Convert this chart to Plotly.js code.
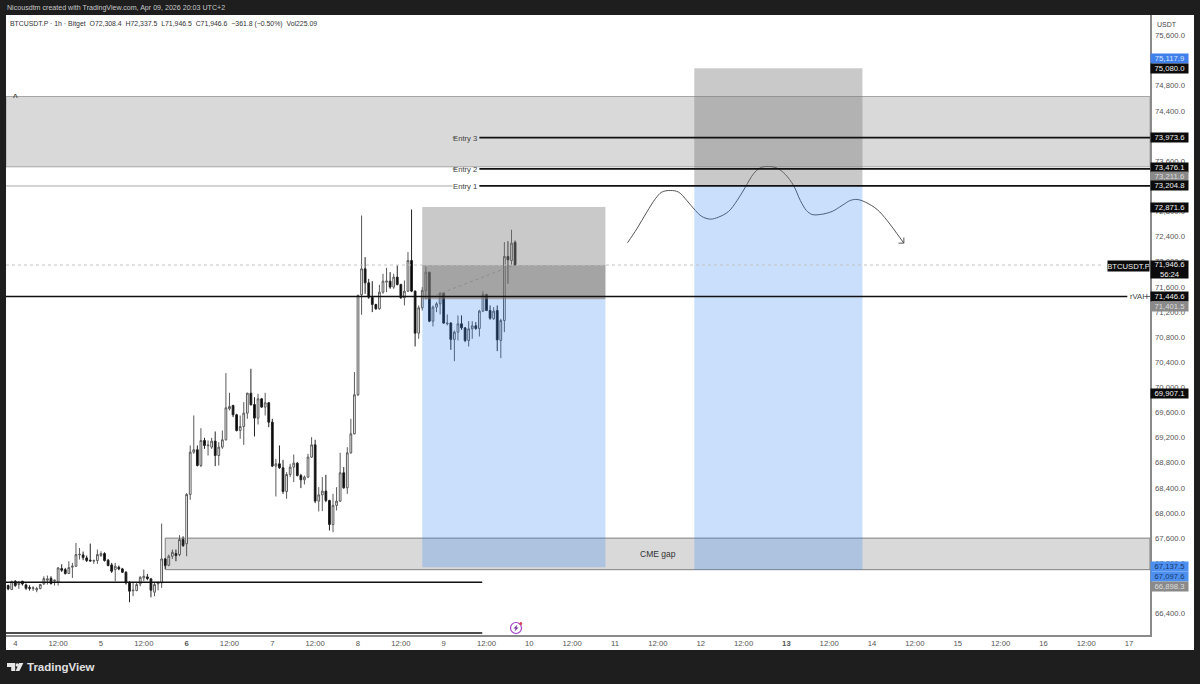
<!DOCTYPE html>
<html><head><meta charset="utf-8">
<script src="https://cdn.plot.ly/plotly-3.0.1.min.js"></script>
<style>html,body{margin:0;padding:0;background:#1e1e1e;overflow:hidden}#c{width:1200px;height:684px}</style>
</head><body><div id="c"></div>
<script>
// Bars: hour offset from Apr 4 00:00 for the first bar, then hourly
const firstHour = -2;
const opens = [66845,66781,66914,66861,66914,66855,66813,66797,66776,66797,66871,66930,66961,66919,66898,67115,67099,67036,67137,67152,67333,67333,67285,67248,67232,67243,67322,67354,67248,67174,67099,67137,67110,67057,66887,66760,66765,66871,66967,66983,66951,66739,66871,66887,67269,67168,67312,67354,67338,67577,
67510,68295,68968,69006,68756,69154,69070,69048,69144,68915,69048,69165,69658,69711,69563,69313,69377,69589,69907,69727,69510,69817,69685,69754,69446,68746,68783,68719,68342,68613,68730,68793,68597,68528,68571,68889,69085,68189,68289,68348,68199,67817,68120,68189,68640,68401,68958,69260,
69881,71472,71886,71663,71435,71319,71250,71515,71674,71690,71595,71754,71637,71425,71531,72019,71531,70862,71266,71541,71833,71053,71276,71329,71499,71011,71022,70762,70878,71011,70947,70746,70931,70979,70937,71213,71478,71223,71091,71223,70746,71064,72083,72019,72308];
const highs = [66861,66924,66930,66914,66919,66877,66850,66834,66824,66871,66993,67004,66993,66940,67137,67184,67126,67232,67206,67524,67444,67386,67322,67513,67259,67418,67391,67375,67269,67206,67206,67163,67126,67073,66914,66887,66887,66993,67099,67030,66967,66887,66914,67831,67285,67338,67418,67418,67646,67630,
68316,69075,69552,69075,69350,69196,69154,69196,69297,69128,69313,70226,69913,69722,69579,69552,69764,69913,70295,69844,69897,69828,69913,69764,69499,68862,69075,68846,68650,68783,68931,68809,68624,68597,68942,69207,69165,68411,68571,68608,68210,68305,68411,68958,68730,69048,69499,70242,
71478,72735,72072,71727,71690,71329,71632,71807,71902,71833,71807,71939,71648,71701,72152,72831,71541,71303,71595,71923,71833,71303,71356,71515,71515,71160,71038,70905,71144,71144,70958,71053,71053,71038,71234,71531,71488,71303,71276,71303,71091,72311,72327,72507,72337];
const lows = [66770,66776,66824,66792,66845,66776,66765,66760,66739,66786,66855,66861,66861,66845,66845,67062,67020,67030,66967,67142,67259,67248,67221,67227,67190,67190,67301,67227,67152,67046,66914,67089,67046,66861,66579,66675,66755,66834,66914,66930,66659,66675,66770,66808,67110,67152,67269,67232,67312,67460,
67312,68210,68942,68740,68730,69021,68915,69021,68746,68756,69021,69154,69632,69526,69297,69181,69085,69499,69711,69218,69409,69674,69552,69366,68730,68263,68703,68305,68226,68571,68491,68581,68396,68454,68555,68878,68157,68024,68030,68173,67722,67695,68040,68173,68385,68305,68942,69250,
69860,71154,71488,71409,71197,71234,71234,71488,71515,71568,71568,71621,71409,71303,71515,71515,70650,70772,71223,71409,71038,70969,71197,71160,71011,70985,70597,70417,70746,70915,70719,70650,70772,70915,70809,71197,71213,71075,71075,70576,70465,70878,71648,71939,71946];
const closes = [66792,66908,66845,66898,66871,66802,66802,66808,66797,66861,66956,66951,66877,66930,67126,67089,67036,67131,67152,67338,67343,67290,67243,67237,67243,67338,67354,67243,67163,67073,67152,67110,67057,66887,66755,66771,66861,66977,66993,66956,66771,66861,66887,67269,67163,67312,67375,67322,67577,67481,
68295,68968,69006,68756,69154,69075,69080,69144,68915,69048,69165,69674,69695,69563,69313,69377,69589,69907,69722,69510,69817,69685,69754,69446,68746,68783,68719,68342,68613,68730,68793,68597,68528,68571,68889,69085,68189,68289,68348,68199,67817,68120,68189,68640,68401,68958,69260,69881,
71462,71886,71663,71435,71319,71250,71515,71690,71690,71595,71754,71637,71425,71531,72019,71531,70862,71266,71541,71833,71053,71276,71329,71499,71022,71022,70762,70878,71011,70947,70746,70931,70979,70937,71213,71478,71223,71101,71213,70756,71064,72083,72030,72295,71947];
const hours = opens.map((_, i) => firstHour + i);

// Axis
const timeTicks = [0,12,24,36,48,60,72,84,96,108,120,132,144,156,168,180,192,204,216,228,240,252,264,276,288,300,312];
const timeLabels = ['4','12:00','5','12:00','<b>6</b>','12:00','7','12:00','8','12:00','9','12:00','10','12:00','11','12:00','12','12:00','<b>13</b>','12:00','14','12:00','15','12:00','16','12:00','17'];
const xMin = -2.6, xMax = 317.85, yMin = 66058, yMax = 75926;

// Levels
const entryPrices = [73973.6, 73476.1, 73204.8];
const entryNames = ['Entry 3','Entry 2','Entry 1'];
const rvah = 71446.6, lastPrice = 71946.6, bareLevels = [66898.3, 66090];
const zoneTop = [73510, 74629], zoneCme = [67097.6, 67600];
const boxA = {x:[114,165.3], entry:71401.5, stop:72871.6, target:67137.5};
const boxB = {x:[190.2,237.3], entry:73204.8, stop:75080, target:67097.6};

// Hand-drawn path
const pathH = [171.5,174.1,176.9,179.3,181.1,183.5,185.8,188.1,190.5,192.3,194.7,197,199.8,202.2,204.5,206.8,208.7,211,213.4,215.7,218,219.9,221.6,223.2,225.5,228.8,231.6,233.9,235.8,238.1,241.4,244.2,247,248.9];
const pathP = [72301,72523,72789,73001,73107,73133,73107,72974,72815,72720,72677,72709,72799,72974,73186,73399,73494,73515,73489,73388,73213,72974,72815,72751,72751,72799,72895,72974,72990,72948,72831,72656,72444,72295];
const headH = [247.4,248.9,248.9], headP = [72295,72295,72385];

// Price scale labels: text, price, fill, ink, pixel shift
const scaleText = ['75,117.9','75,080.0','73,973.6','73,476.1','73,211.6','73,204.8','72,871.6','71,946.6<br>56:24','71,446.6','71,401.5','69,907.1','67,137.5','67,097.6','66,898.3'];
const scalePrice = [75117.9,75080,73973.6,73476.1,73211.6,73204.8,72871.6,71946.6,71446.6,71401.5,69907.1,67137.5,67097.6,66898.3];
const scaleFill = ['#3f80ea','#0b0b0b','#0b0b0b','#0b0b0b','#8a8a8a','#0b0b0b','#0b0b0b','#0b0b0b','#0b0b0b','#8a8a8a','#0b0b0b','#4d90f0','#4d90f0','#8a8a8a'];
const scaleInk = ['#d8e6ff','#eee','#eee','#eee','#ddd','#eee','#eee','#eee','#eee','#ddd','#eee','#17386e','#17386e','#ddd'];
const scaleShift = [6.8,-0.3,0.5,1.9,9.1,0,-0.1,-4.5,-0.5,-7.2,-0.5,0.5,-7.3,-4.4];

const FONT = 'Liberation Sans, Arial, sans-serif';
const PX = v => (v - 6) / 1144, PY = v => 1 - (v - 15) / 620;
const rect = (x0,x1,y0,y1,fill,layer,line) => ({type:'rect',xref:'x',yref:'y',x0,x1,y0,y1,fillcolor:fill,layer:layer||'above',line:line||{width:0}});
const hline = (x0,x1,y,color,width,dash) => ({type:'line',xref:'x',yref:'y',x0,x1,y0:y,y1:y,layer:'above',line:{color,width,dash:dash||'solid'}});
const pxPath = (path,fill) => ({type:'path',xref:'paper',yref:'paper',path,fillcolor:fill,line:{width:0},layer:'above'});
const P = pts => 'M' + pts.map(p => PX(p[0]) + ',' + PY(p[1])).join('L') + 'Z';

const GREY = 'rgba(120,120,120,0.4)', BLUE = 'rgba(50,130,245,0.26)';
const shapes = [
  {type:'rect',xref:'paper',yref:'paper',x0:PX(1150),x1:PX(1194),y0:PY(650),y1:PY(15),fillcolor:'#fff',line:{width:0},layer:'below'},
  {type:'rect',xref:'paper',yref:'paper',x0:PX(6),x1:PX(1194),y0:PY(650),y1:PY(635),fillcolor:'#fff',line:{width:0},layer:'below'},
  rect(xMin,xMax,zoneTop[0],zoneTop[1],'#d9d9d9','below',{color:'#a5a5a5',width:1}),
  rect(42,xMax,zoneCme[0],zoneCme[1],'#d9d9d9','below',{color:'#808080',width:1}),
  rect(boxA.x[0],boxA.x[1],boxA.entry,boxA.stop,GREY),
  rect(boxA.x[0],boxA.x[1],boxA.entry,lastPrice,'rgba(120,120,120,0.45)'),
  rect(boxA.x[0],boxA.x[1],boxA.target,boxA.entry,BLUE),
  rect(boxB.x[0],boxB.x[1],boxB.entry,boxB.stop,GREY),
  rect(boxB.x[0],boxB.x[1],boxB.target,boxB.entry,BLUE),
  {type:'line',xref:'x',yref:'y',x0:114.8,x1:139.8,y0:71401.5,y1:71946.6,layer:'above',line:{color:'#8d8d8d',width:1,dash:'dot'}},
  hline(xMin,305,lastPrice,'#c4c4c4',1,'dot'),
  hline(xMin,311.5,rvah,'#111',1.6),
  hline(316.6,xMax,rvah,'#666',1),
  hline(xMin,125.5,entryPrices[2],'#a8a8a8',1),
  hline(122.5,123.6,entryPrices[0],'#888',1),
  hline(122.5,123.6,entryPrices[1],'#888',1),
  hline(130,xMax,entryPrices[0],'#111',1.8),
  hline(130,xMax,entryPrices[1],'#111',1.8),
  hline(130,xMax,entryPrices[2],'#111',1.8),
  hline(xMin,130.8,bareLevels[0],'#111',1.6),
  hline(xMin,130.8,bareLevels[1],'#111',1.6),
  pxPath(P([[7,663],[15.2,663],[15.2,671],[11.2,671],[11.2,667],[7,667]]),'#e6e6e6'),
  pxPath(P([[19.2,663],[23.4,663],[19.4,671],[15.6,671]]),'#e6e6e6'),
  {type:'circle',xref:'paper',yref:'paper',x0:PX(15.6),x1:PX(19),y0:PY(666.8),y1:PY(663.2),fillcolor:'#e6e6e6',line:{width:0},layer:'above'},
  {type:'circle',xref:'paper',yref:'paper',x0:PX(510.5),x1:PX(521.5),y0:PY(633.5),y1:PY(622.5),fillcolor:'#fff',line:{color:'#a23fc4',width:1.2},layer:'above'},
  pxPath(P([[517.5,624.5],[513.5,628.6],[515.7,628.6],[514.5,631.6],[518.5,627.4],[516.3,627.4]]),'#6a2a90'),
  {type:'circle',xref:'paper',yref:'paper',x0:PX(519.3),x1:PX(522.3),y0:PY(625),y1:PY(622),fillcolor:'#e0405a',line:{width:0},layer:'above'}
];

const annotations = [];
const note = (text,x,y,opts) => annotations.push(Object.assign({text,x,y,xref:'x',yref:'y',showarrow:false,font:{family:FONT,size:7.7,color:'#444'}},opts||{}));
entryNames.forEach((t,i) => note(t,126,entryPrices[i],Object.assign({borderpad:0,yshift:i===1?-1:-0.5},i===2?{bgcolor:'#fff'}:{})));
note('CME gap',180,67350,{font:{family:FONT,size:8.5,color:'#333'}});
note('rVAH',314.8,rvah,{font:{family:FONT,size:7.7,color:'#444'}});
note('^',0,74590,{font:{family:FONT,size:10,color:'#333'}});
scaleText.forEach((t,i) => annotations.push({text:t,xref:'paper',x:1,xanchor:'left',yref:'y',y:scalePrice[i],yshift:scaleShift[i],showarrow:false,bgcolor:scaleFill[i],width:37,height:i===7?17:9.4,borderpad:0,align:'center',font:{family:FONT,size:7.7,color:scaleInk[i]}}));
annotations.push({text:'BTCUSDT.P',xref:'paper',x:PX(1150),xanchor:'right',yref:'y',y:lastPrice,yshift:-0.5,showarrow:false,bgcolor:'#0b0b0b',width:41,height:10,borderpad:0,font:{family:FONT,size:7.7,color:'#eee'}});
const fixed = (text,px,py,size,color,anchor) => annotations.push({text,xref:'paper',yref:'paper',x:PX(px),y:PY(py),xanchor:anchor||'left',yanchor:'middle',showarrow:false,font:{family:FONT,size,color}});
fixed('USDT',1155,24,7,'#444');
fixed('Nicousdtm created with TradingView.com, Apr 09, 2026 20:03 UTC+2',4.5,8.5,7.1,'#c8c8c8');
fixed('BTCUSDT.P · 1h · Bitget &nbsp;O72,308.4 &nbsp;H72,337.5 &nbsp;L71,946.5 &nbsp;C71,946.6 &nbsp;−361.8 (−0.50%) &nbsp;Vol225.09',8,24,6.9,'#333');
fixed('<b>TradingView</b>',25,667,11.5,'#e0e0e0');

const traces = [
  {type:'candlestick',x:hours,open:opens,high:highs,low:lows,close:closes,
   increasing:{line:{color:'#5a5a5a',width:1},fillcolor:'#ffffff'},
   decreasing:{line:{color:'#222',width:1},fillcolor:'#000000'},
   whiskerwidth:0,hoverinfo:'skip',showlegend:false},
  {type:'scatter',mode:'lines',x:pathH,y:pathP,line:{color:'#555',width:1,shape:'spline',smoothing:1},hoverinfo:'skip',showlegend:false},
  {type:'scatter',mode:'lines',x:headH,y:headP,line:{color:'#555',width:1},hoverinfo:'skip',showlegend:false}
];

const layout = {
  width:1200,height:684,paper_bgcolor:'#1e1e1e',plot_bgcolor:'#ffffff',showlegend:false,
  margin:{l:6,r:50,t:15,b:49,pad:0},
  xaxis:{type:'linear',range:[xMin,xMax],tickmode:'array',tickvals:timeTicks,ticktext:timeLabels,showgrid:false,zeroline:false,
    rangeslider:{visible:false},showline:true,linecolor:'#8a8a8a',linewidth:1.5,ticks:'',
    tickfont:{family:FONT,size:7.7,color:'#555'},tickangle:0},
  yaxis:{type:'linear',side:'right',range:[yMin,yMax],tick0:66400,dtick:400,tickformat:',.1f',showgrid:false,zeroline:false,
    showline:true,linecolor:'#8a8a8a',linewidth:1.5,ticks:'outside',ticklen:2,tickcolor:'rgba(0,0,0,0)',
    tickfont:{family:FONT,size:7.7,color:'#555'}},
  shapes,annotations
};
Plotly.newPlot('c',traces,layout,{displayModeBar:false,staticPlot:true});
</script></body></html>
